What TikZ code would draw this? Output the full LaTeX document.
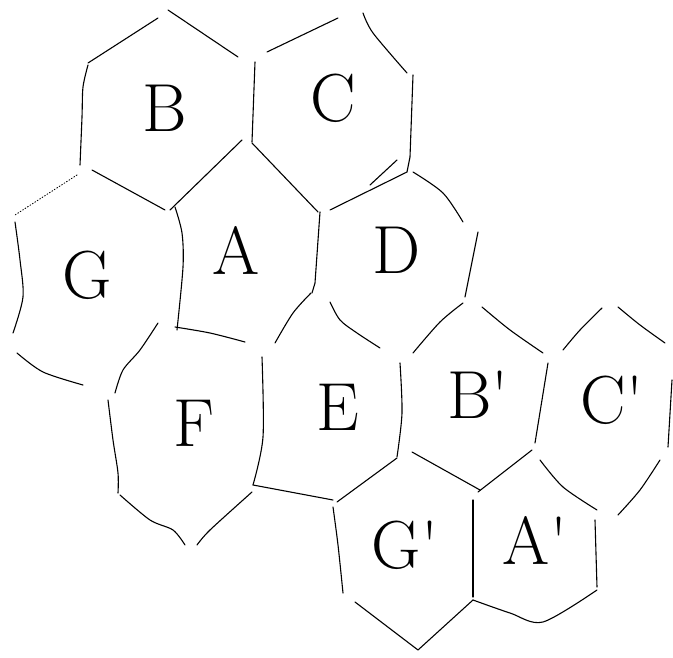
\documentclass[tikz,border=0pt]{standalone}
\usepackage{tikz}
\tikzset{
  cell edge/.style={line width=1.1pt, line cap=round, line join=round},
  faint edge/.style={line width=0.9pt, dotted, line cap=round},
  cell label/.style={font=\fontsize{68}{68}\selectfont, inner sep=0pt}
}

\begin{document}
\begin{tikzpicture}[x=1pt, y=-1pt]
  % page frame, in the pixels of the sketch (y runs down)
  \useasboundingbox (0,0) rectangle (673,658);

  % Cells of the first patch: B, C, G, A, D, F, E
  % B
  \draw[cell edge] (158,18) -- (88,63);
  \draw[cell edge] (168,10) -- (238,57);
  \draw[cell edge] plot[smooth] coordinates {(88,65) (83,87) (82,117) (80,165)};
  \draw[cell edge] (92,170) -- (165,210);
  \draw[cell edge] (255,62) -- (252,142);
  \draw[cell edge] (242,140) -- (170,210);
  \draw[cell edge] (252,143) -- (318,212);
  % C
  \draw[cell edge] (267,52) -- (338,18);
  \draw[cell edge] plot[smooth] coordinates {(363,13) (373,33) (407,73)};
  \draw[cell edge] (413,75) -- (410,157) -- (407,172);
  \draw[cell edge] (330,210) -- (407,172);
  \draw[cell edge] (370,185) -- (397,160);
  % G
  \draw[faint edge] (77,175) -- (15,215);
  \draw[cell edge] plot[smooth] coordinates {(15,222) (20,260) (23,297) (13,333)};
  \draw[cell edge] plot[smooth] coordinates {(17,353) (43,372) (83,385)};
  \draw[cell edge] plot[smooth] coordinates {(158,323) (140,350) (123,370) (115,393)};
  % A
  \draw[cell edge] plot[smooth] coordinates {(175,207) (182,233) (183,267) (177,330)};
  \draw[cell edge] (320,212) -- (315,283) -- (312,293);
  \draw[cell edge] plot[smooth] coordinates {(175,327) (210,333) (245,342)};
  \draw[cell edge] plot[smooth] coordinates {(311,293) (293,313) (275,343)};
  % D
  \draw[cell edge] plot[smooth] coordinates {(413,172) (443,193) (463,222)};
  \draw[cell edge] (478,232) -- (465,297);
  \draw[cell edge] plot[smooth] coordinates {(463,303) (440,322) (413,353)};
  \draw[cell edge] plot[smooth] coordinates {(330,302) (340,320) (357,333) (380,348)};
  % F
  \draw[cell edge] plot[smooth] coordinates {(108,400) (113,440) (118,473) (118,493)};
  \draw[cell edge] plot[smooth] coordinates {(120,495) (150,520) (173,530) (185,545)};
  \draw[cell edge] plot[smooth] coordinates {(197,545) (210,530) (252,492)};
  \draw[cell edge] plot[smooth] coordinates {(262,357) (263,437) (253,485)};
  % E
  \draw[cell edge] (253,485) -- (333,500);
  \draw[cell edge] plot[smooth] coordinates {(400,363) (402,413) (397,457)};

  % Cells of the second patch: B', C', G', A'
  % B'
  \draw[cell edge] plot[smooth] coordinates {(482,307) (510,330) (543,353)};
  \draw[cell edge] (548,363) -- (535,443);
  \draw[cell edge] (412,452) -- (480,490);
  \draw[cell edge] (532,450) -- (478,492);
  % C'
  \draw[cell edge] plot[smooth] coordinates {(602,308) (580,330) (563,350)};
  \draw[cell edge] plot[smooth] coordinates {(618,307) (640,325) (665,343)};
  \draw[cell edge] (672,380) -- (668,447);
  \draw[cell edge] plot[smooth] coordinates {(660,460) (640,490) (618,515)};
  \draw[cell edge] plot[smooth] coordinates {(540,460) (563,487) (597,510)};
  % G'
  \draw[cell edge] (337,502) -- (397,458);
  \draw[cell edge] plot[smooth] coordinates {(333,507) (338,545) (343,593)};
  \draw[cell edge] (473,500) -- (473,597);
  \draw[cell edge] (355,602) -- (418,650) -- (473,600);
  % A'
  \draw[cell edge] (595,520) -- (597,587);
  \draw[cell edge] plot[smooth] coordinates {(473,600) (510,613) (543,622) (597,590)};

  % Labels
  \node[cell label] (labB) at (165,108) {B};
  \node[cell label] (labC) at (333,98) {C};
  \node[cell label] (labG) at (87,275) {G};
  \node[cell label] (labA) at (236,250) {A};
  \node[cell label] (labD) at (397,250) {D};
  \node[cell label] (labF) at (194,423) {F};
  \node[cell label] (labE) at (338,407) {E};
  \node[cell label] (labBp) at (478,395) {B\textquotesingle};
  \node[cell label] (labCp) at (612,400) {C\textquotesingle};
  \node[cell label] (labGp) at (405,545) {G\textquotesingle};
  \node[cell label] (labAp) at (535,540) {A\textquotesingle};
\end{tikzpicture}
\end{document}
